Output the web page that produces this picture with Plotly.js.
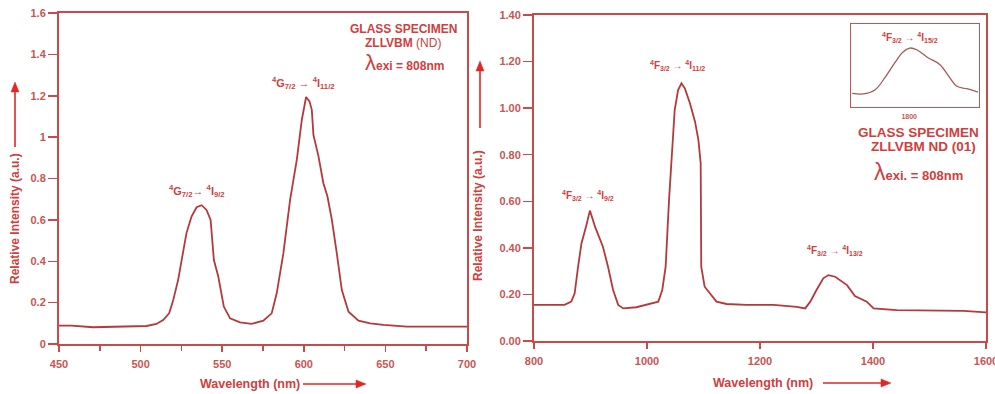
<!DOCTYPE html>
<html><head><meta charset="utf-8">
<script src="https://cdn.plot.ly/plotly-3.0.1.min.js"></script>
<style>html,body{margin:0;padding:0;background:#fff}#chart{width:995px;height:394px}</style>
</head><body><div id="chart"></div>
<script>
// ---- Data ----
const leftWavelength = [450, 457.6, 470.9, 485.2, 503.6, 509.7, 513.8, 517.5, 520, 523, 525.7, 528.1, 531.2, 534.3, 537.4, 540.4, 542.9, 544.9, 547.6, 551, 554.8, 560.9, 568, 575.2, 580.3, 583.4, 587.5, 591.6, 595.7, 598.8, 601.4, 603.5, 604.9, 605.9, 609, 612, 614.5, 617.2, 620.2, 623.3, 627.4, 633.5, 640.7, 648.9, 663.2, 679.6, 700];
const leftIntensity = [0.089, 0.089, 0.081, 0.084, 0.087, 0.097, 0.116, 0.148, 0.213, 0.31, 0.439, 0.536, 0.616, 0.661, 0.671, 0.648, 0.60, 0.406, 0.326, 0.181, 0.124, 0.105, 0.097, 0.113, 0.148, 0.245, 0.439, 0.697, 0.89, 1.084, 1.194, 1.173, 1.132, 1.011, 0.907, 0.777, 0.713, 0.60, 0.439, 0.261, 0.156, 0.113, 0.10, 0.092, 0.084, 0.084, 0.084];

const rightWavelength = [800, 854, 866, 872, 878, 884, 892, 899, 908, 922, 931, 940, 949, 958, 981, 1011, 1020, 1027, 1033, 1039, 1043, 1049, 1055, 1061, 1067, 1076, 1085, 1091, 1095, 1096, 1102, 1111, 1123, 1141, 1176, 1224, 1265, 1280, 1289, 1300, 1312, 1321, 1333, 1354, 1368, 1389, 1401, 1442, 1531, 1560, 1600];
const rightIntensity = [0.155, 0.155, 0.169, 0.205, 0.319, 0.419, 0.491, 0.56, 0.491, 0.405, 0.319, 0.219, 0.155, 0.14, 0.145, 0.162, 0.169, 0.219, 0.319, 0.606, 0.777, 0.992, 1.078, 1.107, 1.085, 1.021, 0.942, 0.863, 0.763, 0.319, 0.233, 0.205, 0.169, 0.159, 0.155, 0.155, 0.147, 0.14, 0.169, 0.219, 0.269, 0.283, 0.276, 0.24, 0.193, 0.169, 0.14, 0.133, 0.13, 0.129, 0.123];

const insetWavelength = [1702, 1721, 1741, 1758, 1776, 1789, 1801, 1813, 1831, 1853, 1870, 1882, 1899, 1918];
const insetIntensity = [0.165, 0.157, 0.205, 0.35, 0.54, 0.66, 0.71, 0.69, 0.60, 0.51, 0.35, 0.25, 0.22, 0.18];

const leftXTicks = [450, 500, 550, 600, 650, 700];
const leftXMinor = [475, 525, 575, 625, 675];
const leftYTicks = [0, 0.2, 0.4, 0.6, 0.8, 1.0, 1.2, 1.4, 1.6];
const rightXTicks = [800, 1000, 1200, 1400, 1600];
const rightYTicks = [0, 0.2, 0.4, 0.6, 0.8, 1.0, 1.2, 1.4];
const insetXTicks = [1800];

const leftLabels = ['<sup>4</sup>G<sub>7/2</sub>→ <sup>4</sup>I<sub>9/2</sub>', '<sup>4</sup>G<sub>7/2</sub> → <sup>4</sup>I<sub>11/2</sub>'];
const rightLabels = ['<sup>4</sup>F<sub>3/2</sub> → <sup>4</sup>I<sub>9/2</sub>', '<sup>4</sup>F<sub>3/2</sub> → <sup>4</sup>I<sub>11/2</sub>', '<sup>4</sup>F<sub>3/2</sub> → <sup>4</sup>I<sub>13/2</sub>', '<sup>4</sup>F<sub>3/2</sub> → <sup>4</sup>I<sub>15/2</sub>'];

// ---- Styling ----
const W = 995, H = 394;
const X = p => p / W;
const Y = p => 1 - p / H;
const FONT = 'Liberation Sans, Arial, sans-serif';
const lineCol = '#c84a4a';
const curveCol = '#b3393c';
const textCol = '#cf4040';
const tickTextCol = '#c95555';
const arrowCol = '#e02626';

function baseAxis(extra) {
  return Object.assign({
    showline: true, linecolor: lineCol, linewidth: 2, mirror: true,
    ticks: 'outside', tickcolor: lineCol, tickwidth: 1.5, ticklen: 8,
    showgrid: false, zeroline: false, ticklabeloverflow: 'allow',
    tickfont: {family: FONT, size: 11, color: tickTextCol, weight: 'bold'}
  }, extra);
}

const traces = [
  {x: leftWavelength, y: leftIntensity, xaxis: 'x', yaxis: 'y', mode: 'lines',
   line: {color: curveCol, width: 1.8}, hoverinfo: 'skip'},
  {x: rightWavelength, y: rightIntensity, xaxis: 'x2', yaxis: 'y2', mode: 'lines',
   line: {color: curveCol, width: 1.8}, hoverinfo: 'skip'},
  {x: insetWavelength, y: insetIntensity, xaxis: 'x3', yaxis: 'y3', mode: 'lines',
   line: {color: '#a65a5a', width: 1.3, shape: 'spline'}, hoverinfo: 'skip'}
];

const ann = [];
function txt(px, py, text, size, extra) {
  ann.push(Object.assign({xref: 'paper', yref: 'paper', x: X(px), y: Y(py), text: text,
    showarrow: false, xanchor: 'center', yanchor: 'middle',
    font: {family: FONT, size: size, color: textCol, weight: 'bold'}}, extra || {}));
}
const shapes = [];
// arrow drawn as a line plus a filled triangular head (pixel positions converted to paper)
function arrow(hx, hy, tx, ty) {
  const dx = hx - tx, dy = hy - ty, len = Math.hypot(dx, dy);
  const ux = dx / len, uy = dy / len, hl = 10, hw = 4;
  const bx = hx - ux * hl, by = hy - uy * hl;
  shapes.push({type: 'line', xref: 'paper', yref: 'paper', x0: X(tx), y0: Y(ty), x1: X(bx), y1: Y(by),
    line: {color: arrowCol, width: 1.6}});
  const p1 = [bx - uy * hw, by + ux * hw], p2 = [bx + uy * hw, by - ux * hw];
  shapes.push({type: 'path', xref: 'paper', yref: 'paper',
    path: `M ${X(hx)} ${Y(hy)} L ${X(p1[0])} ${Y(p1[1])} L ${X(p2[0])} ${Y(p2[1])} Z`,
    fillcolor: arrowCol, line: {color: arrowCol, width: 0.5}});
}

// left panel texts
txt(197, 191, leftLabels[0], 11);
txt(303, 83, leftLabels[1], 11);
txt(403, 29, 'GLASS SPECIMEN', 12);
txt(403, 43, 'ZLLVBM <span style="font-weight:normal">(ND)</span>', 12);
txt(404, 63, '<span style="font-size:22px;font-weight:normal">λ</span>exi = 808nm', 12);
txt(250, 384, 'Wavelength (nm)', 12.5);
txt(15, 219, 'Relative Intensity (a.u.)', 12, {textangle: -90});
arrow(366, 384, 303, 384);
arrow(15, 82, 15, 147);

// right panel texts
txt(588, 195, rightLabels[0], 10);
txt(677, 65, rightLabels[1], 10);
txt(835, 250, rightLabels[2], 10);
txt(910, 38, rightLabels[3], 10);
txt(918, 132, 'GLASS SPECIMEN', 13.5);
txt(923, 147, 'ZLLVBM ND (01)', 13.5);
txt(918, 172, '<span style="font-size:23px;font-weight:normal">λ</span>exi. = 808nm', 13);
txt(763, 383, 'Wavelength (nm)', 12.5);
txt(478, 216, 'Relative Intensity (a.u.)', 12, {textangle: -90});
arrow(891, 383, 823, 383);
arrow(480, 61, 480, 128);

const layout = {
  width: W, height: H,
  margin: {l: 0, r: 0, t: 0, b: 0},
  paper_bgcolor: '#ffffff', plot_bgcolor: '#ffffff',
  showlegend: false,
  font: {family: FONT, color: textCol},
  xaxis: baseAxis({domain: [X(59), X(467)], range: [450, 700], tickvals: leftXTicks, anchor: 'y',
    ticklen: 6, ticklabelstandoff: 3,
    minor: {tickvals: leftXMinor, ticks: 'outside', ticklen: 5, tickcolor: lineCol, tickwidth: 1.5, showgrid: false}}),
  yaxis: baseAxis({domain: [Y(344), Y(13)], range: [0, 1.6], tickvals: leftYTicks, anchor: 'x', ticklen: 9}),
  xaxis2: baseAxis({domain: [X(534), X(986)], range: [800, 1600], tickvals: rightXTicks, anchor: 'y2',
    ticklen: 6, ticklabelstandoff: 3}),
  yaxis2: baseAxis({domain: [Y(341), Y(15)], range: [0, 1.4], tickvals: rightYTicks, tickformat: '.2f', anchor: 'x2', ticklen: 9}),
  xaxis3: {domain: [X(851), X(979)], range: [1700, 1920], tickvals: insetXTicks, anchor: 'y3',
    showline: true, linecolor: '#bf5656', linewidth: 1.3, mirror: true, ticks: '', showgrid: false, zeroline: false,
    ticklabelstandoff: 2,
    tickfont: {family: FONT, size: 7, color: '#b86060', weight: 'bold'}},
  yaxis3: {domain: [Y(107), Y(24)], range: [0, 1], anchor: 'x3', showline: true, linecolor: '#bf5656', linewidth: 1.3,
    mirror: true, ticks: '', showticklabels: false, showgrid: false, zeroline: false},
  annotations: ann,
  shapes: shapes
};

Plotly.newPlot('chart', traces, layout, {staticPlot: true, displayModeBar: false});
</script></body></html>
